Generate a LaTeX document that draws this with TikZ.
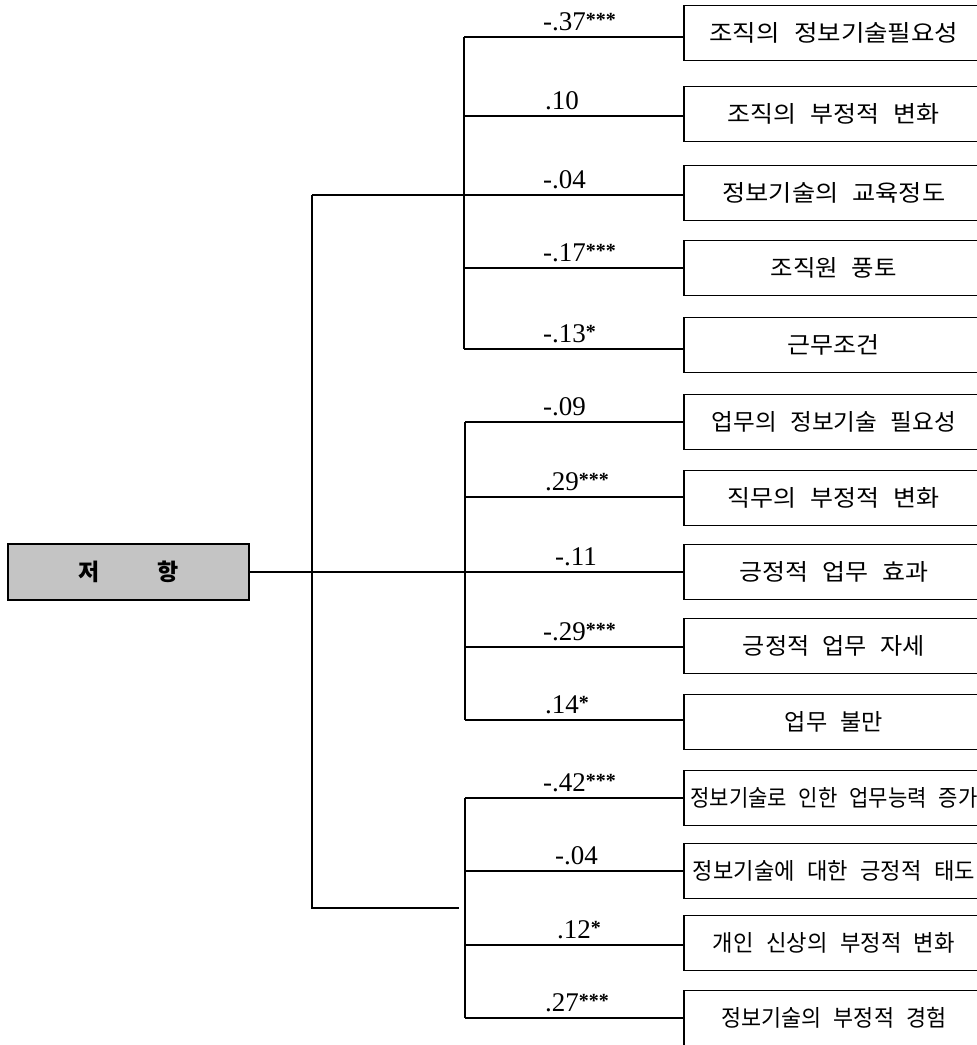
\documentclass[tikz,border=0pt]{standalone}
\usepackage{fontspec}
\usepackage{graphicx}
\setmainfont{Liberation Serif}
\newfontfamily\kr[WordSpace=2.5]{Noto Sans CJK KR}
\newcommand\sigstars[1]{\raisebox{4pt}{\fontsize{20pt}{20pt}\selectfont\bfseries #1}}
\newsavebox\fitbox
\newcommand\fitw[2]{\sbox\fitbox{#2}\pgfmathsetmacro\fitratio{#1/\wd\fitbox}\scalebox{\fitratio}[1]{\usebox\fitbox}}
\begin{document}
\begin{tikzpicture}[x=1pt,y=-1pt,
  link/.style={line width=1.8pt},
  itembox/.style={draw, line width=1.8pt, minimum width=300pt, minimum height=55pt,
    anchor=west, inner sep=0pt, font=\kr\fontsize{23pt}{23pt}\selectfont},
  rootbox/.style={draw, line width=1.8pt, fill={rgb,255:red,196;green,196;blue,196},
    minimum width=241pt, minimum height=56pt, inner sep=0pt,
    font=\kr\bfseries\fontsize{23pt}{23pt}\selectfont},
  coef/.style={anchor=base west, inner sep=0pt, font=\fontsize{27pt}{27pt}\selectfont}]
\useasboundingbox (0,0) rectangle (977,1045);

% root
\node[rootbox] (root) at (128.5,572) {\makebox[101pt]{저\hfill 항}};

% item boxes
\node[itembox] (b1) at (683,33) {\fitw{249}{조직의 정보기술필요성}};
\node[itembox] (b2) at (683,114) {\fitw{212}{조직의 부정적 변화}};
\node[itembox] (b3) at (683,193) {\fitw{223}{정보기술의 교육정도}};
\node[itembox] (b4) at (683,268) {\fitw{126}{조직원 풍토}};
\node[itembox] (b5) at (683,345) {\fitw{92}{근무조건}};
\node[itembox] (b6) at (683,422) {\fitw{244}{업무의 정보기술 필요성}};
\node[itembox] (b7) at (683,498) {\fitw{212}{직무의 부정적 변화}};
\node[itembox] (b8) at (683,572) {\fitw{189}{긍정적 업무 효과}};
\node[itembox] (b9) at (683,646) {\fitw{182}{긍정적 업무 자세}};
\node[itembox] (b10) at (683,722) {\fitw{98}{업무 불만}};
\node[itembox] (b11) at (683,798) {\fitw{287}{정보기술로 인한 업무능력 증가}};
\node[itembox] (b12) at (683,871) {\fitw{282}{정보기술에 대한 긍정적 태도}};
\node[itembox] (b13) at (683,943) {\fitw{242}{개인 신상의 부정적 변화}};
\node[itembox] (b14) at (683,1018) {\fitw{225}{정보기술의 부정적 경험}};

% branch points on inner trunks
\coordinate (p1) at (464,37);
\coordinate (p2) at (464,116);
\coordinate (p3) at (464,195);
\coordinate (p4) at (464,268);
\coordinate (p5) at (464,349);
\coordinate (p6) at (465,422);
\coordinate (p7) at (465,497);
\coordinate (p8) at (465,572);
\coordinate (p9) at (465,647);
\coordinate (p10) at (465,720);
\coordinate (p11) at (465,798);
\coordinate (p12) at (465,871);
\coordinate (p13) at (465,945);
\coordinate (p14) at (465,1018);

% outer trunk
\coordinate (Ltop) at (312,195);
\coordinate (Lbot) at (312,908);
\coordinate (Lend) at (459,908);

\draw[link] (p1) -- (p5);
\draw[link] (p6) -- (p10);
\draw[link] (p11) -- (p14);
\draw[link] (Ltop) -- (Lbot) -- (Lend);
\draw[link] (Ltop) -- (p3);
\draw[link] (root.east) -- (p8);

\foreach \i in {1,...,14}{
  \draw[link] (p\i) -- (p\i -| b\i.west);
}

% coefficients
\node[coef] (c1) at (543,30) {-.37\sigstars{***}};
\node[coef] (c2) at (545,109) {.10};
\node[coef] (c3) at (543,188) {-.04};
\node[coef] (c4) at (543,261) {-.17\sigstars{***}};
\node[coef] (c5) at (543,342) {-.13\sigstars{*}};
\node[coef] (c6) at (543,415) {-.09};
\node[coef] (c7) at (545,490) {.29\sigstars{***}};
\node[coef] (c8) at (555,565) {-.11};
\node[coef] (c9) at (543,640) {-.29\sigstars{***}};
\node[coef] (c10) at (545,713) {.14\sigstars{*}};
\node[coef] (c11) at (543,791) {-.42\sigstars{***}};
\node[coef] (c12) at (555,864) {-.04};
\node[coef] (c13) at (557,938) {.12\sigstars{*}};
\node[coef] (c14) at (545,1011) {.27\sigstars{***}};
\end{tikzpicture}
\end{document}
